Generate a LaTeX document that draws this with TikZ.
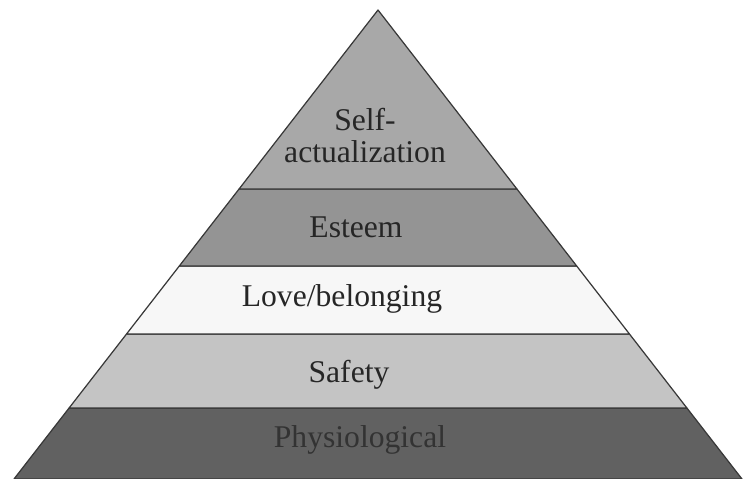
\documentclass[tikz,border=0pt]{standalone}
\usepackage{fontspec}
\setmainfont{Liberation Serif}
\usetikzlibrary{calc}

\definecolor{selfgray}{gray}{0.66}
\definecolor{esteemgray}{gray}{0.58}
\definecolor{lovegray}{gray}{0.97}
\definecolor{safetygray}{gray}{0.77}
\definecolor{physgray}{gray}{0.38}
\definecolor{edgegray}{gray}{0.22}

\tikzset{
  band/.style={draw=edgegray, line width=0.7pt, line join=round},
  level/.style={anchor=base, inner sep=0pt, text=black!85,
    font=\fontsize{18}{18.4}\selectfont, align=center}
}

\begin{document}
\begin{tikzpicture}

\useasboundingbox (0,0) rectangle (14.88,9.58);

% corners of the pyramid
\coordinate (bl) at (0.28,0);
\coordinate (br) at (14.84,0);
\coordinate (apex) at (7.56,9.38);

% band edges on both sides
\coordinate (l1) at ($(bl)!0.1514!(apex)$);
\coordinate (r1) at ($(br)!0.1514!(apex)$);
\coordinate (l2) at ($(bl)!0.3092!(apex)$);
\coordinate (r2) at ($(br)!0.3092!(apex)$);
\coordinate (l3) at ($(bl)!0.4542!(apex)$);
\coordinate (r3) at ($(br)!0.4542!(apex)$);
\coordinate (l4) at ($(bl)!0.6183!(apex)$);
\coordinate (r4) at ($(br)!0.6183!(apex)$);

\filldraw[band, fill=physgray] (bl) -- (br) -- (r1) -- (l1) -- cycle;
\filldraw[band, fill=safetygray] (l1) -- (r1) -- (r2) -- (l2) -- cycle;
\filldraw[band, fill=lovegray] (l2) -- (r2) -- (r3) -- (l3) -- cycle;
\filldraw[band, fill=esteemgray] (l3) -- (r3) -- (r4) -- (l4) -- cycle;
\filldraw[band, fill=selfgray] (l4) -- (r4) -- (apex) -- cycle;

\node[level, text=black!80] (phys) at (7.20,0.62) {Physiological};
\node[level] (safety) at (6.98,1.92) {Safety};
\node[level] (love) at (6.84,3.44) {Love/belonging};
\node[level] (esteem) at (7.12,4.82) {Esteem};
\node[level] (self) at (7.30,6.32) {Self-\\actualization};

\end{tikzpicture}
\end{document}
